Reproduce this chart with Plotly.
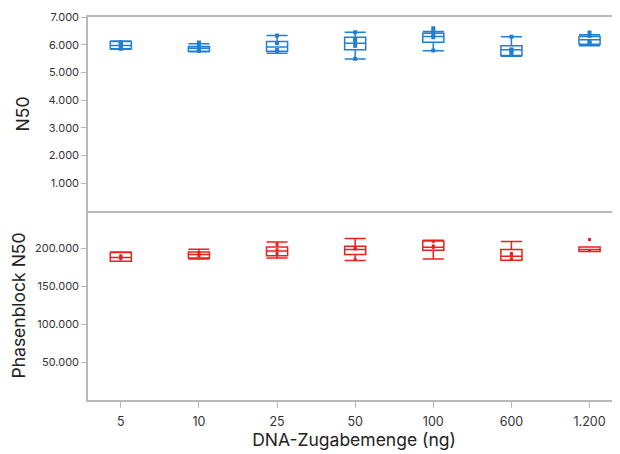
import plotly.graph_objects as go
from plotly.subplots import make_subplots

categories = ["5", "10", "25", "50", "100", "600", "1.200"]

# N50 box statistics (top panel)
n50_lower = [5832, 5750, 5690, 5486, 5786, 5582, 5964]
n50_q1 = [5857, 5761, 5761, 5821, 6093, 5607, 6021]
n50_median = [5975, 5868, 5914, 6057, 6296, 5821, 6179]
n50_q3 = [6118, 5939, 6118, 6271, 6414, 5964, 6296]
n50_upper = [6136, 6036, 6332, 6450, 6475, 6286, 6357]
n50_points = [
    [6090, 6050, 6000, 5950, 5850],
    [6080, 5960, 5800, 5790, 5780],
    [6330, 6060, 6055, 5800, 5795, 5790],
    [6450, 6200, 6140, 5960, 5490],
    [6593, 6470, 6390, 6270, 5790],
    [6290, 5830, 5810, 5770, 5680],
    [6440, 6320, 6100, 6060],
]

# Phasenblock N50 box statistics (bottom panel)
pb_lower = [182900, 185900, 187200, 183800, 185900, 184200, 195700]
pb_q1 = [182900, 187200, 189900, 191700, 197400, 184200, 195700]
pb_median = [187700, 191700, 196400, 198300, 201300, 189500, 198300]
pb_q3 = [194300, 195100, 201700, 202600, 209600, 198300, 201700]
pb_upper = [195000, 198700, 208300, 212700, 210500, 208800, 201700]
pb_points = [
    [190000, 188000, 186000],
    [193000, 191000, 190000],
    [205000, 198000, 193000],
    [200000, 199000, 185000],
    [209000, 203000, 201000],
    [193000, 190000, 186000],
    [211400, 197000],
]

blue = "#1f7fd2"
red = "#e8211d"
axis_gray = "#b8b8b8"
font_family = "Inter, Noto Sans, sans-serif"

fig = make_subplots(rows=2, cols=1, shared_xaxes=True, vertical_spacing=0)

fig.add_trace(go.Box(
    x=categories, q1=n50_q1, median=n50_median, q3=n50_q3,
    lowerfence=n50_lower, upperfence=n50_upper,
    line=dict(color=blue, width=1.5), fillcolor="rgba(255,255,255,0)",
    width=0.27, whiskerwidth=1, showlegend=False, hoverinfo="skip",
), row=1, col=1)
px, py = [], []
for c, pts in zip(categories, n50_points):
    px += [c] * len(pts)
    py += pts
fig.add_trace(go.Scatter(x=px, y=py, mode="markers",
                         marker=dict(color=blue, size=4, symbol="square"),
                         showlegend=False, hoverinfo="skip"), row=1, col=1)

fig.add_trace(go.Box(
    x=categories, q1=pb_q1, median=pb_median, q3=pb_q3,
    lowerfence=pb_lower, upperfence=pb_upper,
    line=dict(color=red, width=1.5), fillcolor="rgba(255,255,255,0)",
    width=0.27, whiskerwidth=1, showlegend=False, hoverinfo="skip",
), row=2, col=1)
qx, qy = [], []
for c, pts in zip(categories, pb_points):
    qx += [c] * len(pts)
    qy += pts
fig.add_trace(go.Scatter(x=qx, y=qy, mode="markers",
                         marker=dict(color=red, size=3, symbol="square"),
                         showlegend=False, hoverinfo="skip"), row=2, col=1)

tickfont = dict(family=font_family, size=11, color="#333333")
titlefont = dict(family=font_family, size=17.5, color="#222222")

split = (400 - 211) / 383

fig.update_layout(
    width=620, height=454,
    margin=dict(l=80, r=8, t=9, b=62),
    paper_bgcolor="white", plot_bgcolor="white",
    separators=",.",
    font=dict(family=font_family),
    boxgap=0,
)
fig.update_xaxes(type="category", categoryorder="array", categoryarray=categories,
                 range=[-0.42, 6.39], showgrid=False, zeroline=False, automargin=False,
                 showline=True, linecolor=axis_gray, linewidth=1.5)
fig.update_xaxes(row=1, col=1, mirror=True, ticks="", showticklabels=False)
fig.update_xaxes(row=2, col=1, ticks="outside", ticklen=6, tickcolor=axis_gray,
                 ticklabelstandoff=3,
                 tickfont=dict(family=font_family, size=12.5, color="#333333"),
                 title=dict(text="DNA-Zugabemenge (ng)", font=titlefont, standoff=5))
fig.update_yaxes(showgrid=False, zeroline=False, showline=True, linecolor=axis_gray,
                 linewidth=1.5, ticks="outside", ticklen=5, tickcolor=axis_gray,
                 tickfont=tickfont, tickformat=",d", automargin=False)
fig.update_yaxes(row=1, col=1, range=[0, 7000], domain=[split, 1],
                 tickvals=[1000, 2000, 3000, 4000, 5000, 6000, 7000],
                 title=dict(text="N50", font=titlefont, standoff=14))
fig.update_yaxes(row=2, col=1, range=[0, 249000], domain=[0, split],
                 tickvals=[50000, 100000, 150000, 200000],
                 title=dict(text="Phasenblock N50", font=titlefont, standoff=14))

fig.write_html("out.html")
